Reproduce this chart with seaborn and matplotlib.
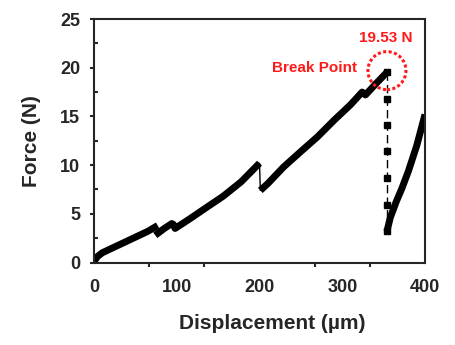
import numpy as np
import pandas as pd
import matplotlib
matplotlib.use("Agg")
import matplotlib.pyplot as plt
import seaborn as sns
from matplotlib.ticker import MultipleLocator

# Force-displacement readings, one list per continuous segment
seg1_x = [0, 4, 10, 30, 50, 65, 77]
seg1_y = [0.1, 0.6, 1.0, 1.8, 2.6, 3.2, 3.8]
seg2_x = [74, 85, 94, 96, 98, 116, 135, 156, 178, 200]
seg2_y = [2.8, 3.5, 4.0, 3.9, 3.5, 4.5, 5.6, 6.8, 8.3, 10.2]
seg3_x = [201, 210, 229, 250, 270, 290, 310, 324, 328, 340, 354]
seg3_y = [7.4, 8.1, 9.8, 11.4, 12.9, 14.6, 16.2, 17.5, 17.2, 18.3, 19.53]
seg4_x = [354, 358, 365, 372, 380, 390, 400]
seg4_y = [3.2, 4.6, 6.2, 7.6, 9.4, 12.0, 15.2]

# sudden drop at the break
break_x = [354, 354, 354, 354, 354, 354, 354]
break_y = [19.53, 16.8, 14.1, 11.4, 8.7, 5.9, 3.2]

x_ticks = [0, 100, 200, 300, 400]
y_ticks = [0, 5, 10, 15, 20, 25]

sns.set_style("ticks")
plt.rcParams['font.family'] = ['Liberation Sans', 'DejaVu Sans']
plt.rcParams['font.weight'] = 'bold'
plt.rcParams['axes.linewidth'] = 1.5

segs = [(seg1_x, seg1_y), (seg2_x, seg2_y), (seg3_x, seg3_y), (seg4_x, seg4_y)]
curve = pd.concat(
    [pd.DataFrame({"x": sx, "y": sy, "seg": i}) for i, (sx, sy) in enumerate(segs)],
    ignore_index=True,
)

fig = plt.figure(figsize=(4.55, 3.45), dpi=100)
ax = fig.add_axes([0.2066, 0.2391, 0.7275, 0.7058])

# thin connectors between segments (the small drops)
ax.plot([seg2_x[-1], seg3_x[0]], [seg2_y[-1], seg3_y[0]], color="black", lw=1)
ax.plot(break_x, break_y, color="black", lw=1, linestyle=(0, (6, 3)),
        marker="s", markersize=4)

sns.lineplot(data=curve, x="x", y="y", units="seg", estimator=None, sort=False,
             color="black", lw=5, legend=False, ax=ax, solid_capstyle="butt")

# break point annotation
ax.scatter([break_x[0]], [19.7], s=750, facecolors="none", edgecolors="#ff1a1a",
           linewidths=2.2, linestyles=[(0, (1, 0.8))], zorder=5)
ax.text(318, 20.0, "Break Point", color="#ff1a1a", fontsize=11,
        fontweight="bold", ha="right", va="center")
ax.text(353, 23.0, "19.53 N", color="#ff1a1a", fontsize=11,
        fontweight="bold", ha="center", va="center")

ax.set_xlim(0, 400)
ax.set_ylim(0, 25)
ax.set_xticks(x_ticks)
ax.set_yticks(y_ticks)
ax.xaxis.set_minor_locator(MultipleLocator(400 / 6))
ax.yaxis.set_minor_locator(MultipleLocator(2.5))
ax.tick_params(axis="x", which="major", length=0, pad=12, labelsize=13)
ax.tick_params(axis="x", which="minor", direction="out", length=3, width=1.5)
ax.tick_params(axis="y", which="major", direction="out", length=3, width=1.5,
               pad=7, labelsize=13)
ax.tick_params(axis="y", which="minor", direction="in", length=3, width=1.5)

ax.set_xlabel("Displacement (µm)", fontsize=15, fontweight="bold")
ax.set_ylabel("Force (N)", fontsize=15, fontweight="bold")
ax.xaxis.set_label_coords(0.538, -0.21)
ax.yaxis.set_label_coords(-0.16, 0.5)

fig.savefig("out.png", dpi=100)
